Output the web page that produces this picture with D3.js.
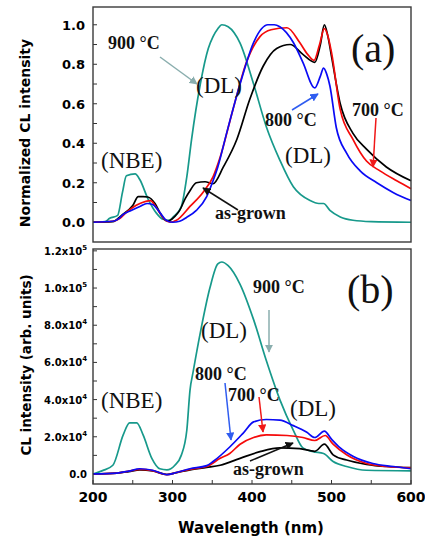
<!DOCTYPE html>
<html>
<head>
<meta charset="utf-8">
<script src="https://cdn.jsdelivr.net/npm/d3@7"></script>
<style>
  body { margin: 0; background: #fff; }
  svg { display: block; }
</style>
</head>
<body>
<div id="chart"></div>
<script>
// wavelength (nm), value
const top900 = [[200,0],[215,0.003],[221,0.02],[231,0.035],[237,0.15],[242,0.235],[253,0.245],[259,0.215],[269,0.12],[280,0.045],[288,0.015],[296,0.01],[301,0.027],[311,0.078],[318,0.23],[324,0.42],[335,0.7],[345,0.88],[351,0.94],[357,0.98],[362,1.0],[370,0.99],[385,0.907],[402,0.70],[418,0.484],[435,0.315],[452,0.18],[473,0.11],[484,0.095],[490,0.095],[498,0.06],[511,0.027],[527,0.01],[550,0.003],[600,0.0]];
const top800 = [[200,0],[225,0.005],[233,0.02],[238,0.04],[248,0.06],[259,0.08],[268,0.095],[275,0.09],[284,0.05],[292,0.01],[300,0],[309,0.005],[318,0.025],[330,0.06],[343,0.13],[351,0.21],[357,0.28],[368,0.45],[385,0.70],[402,0.91],[412,0.98],[420,1.0],[428,1.0],[435,0.99],[452,0.91],[464,0.81],[479,0.68],[486,0.74],[490,0.78],[494,0.75],[498,0.69],[506,0.48],[519,0.35],[536,0.26],[557,0.2],[578,0.15],[600,0.11]];
const top700 = [[200,0],[225,0.005],[234,0.02],[242,0.05],[250,0.075],[259,0.095],[272,0.11],[282,0.06],[290,0.015],[297,0],[305,0.01],[322,0.08],[339,0.155],[351,0.23],[360,0.33],[376,0.57],[393,0.81],[410,0.94],[424,0.975],[444,0.985],[460,0.91],[470,0.85],[478,0.82],[485,0.9],[491,0.98],[495,0.95],[500,0.86],[511,0.57],[527,0.42],[544,0.31],[561,0.26],[582,0.21],[600,0.17]];
const topGrown = [[200,0],[225,0.003],[236,0.035],[250,0.085],[257,0.13],[263,0.13],[269,0.128],[278,0.095],[286,0.035],[293,0.007],[297,0.01],[303,0.03],[309,0.06],[316,0.12],[322,0.16],[330,0.2],[341,0.205],[351,0.195],[364,0.28],[381,0.42],[397,0.62],[414,0.79],[431,0.88],[448,0.9],[464,0.85],[479,0.81],[486,0.9],[491,1.0],[495,0.95],[500,0.84],[511,0.6],[527,0.45],[544,0.37],[569,0.28],[600,0.21]];

const bot900 = [[200,0],[212,1800],[225,4700],[238,21000],[246,27500],[255,27500],[263,21000],[274,8400],[284,2800],[293,2200],[303,4700],[311,10000],[318,23500],[322,45000],[326,55000],[335,76000],[347,100000],[357,113000],[362,114000],[370,112000],[385,102000],[402,83000],[418,61000],[435,40000],[452,23500],[464,14000],[477,12000],[490,11000],[502,6700],[519,4000],[544,2000],[600,1700]];
const bot800 = [[200,0],[230,500],[245,1500],[259,2800],[275,2000],[293,-400],[305,800],[322,2800],[343,4500],[351,6700],[372,14500],[389,22000],[402,28000],[418,29300],[435,29000],[452,26000],[469,22400],[479,19600],[491,23000],[500,18700],[511,14000],[527,9500],[552,5600],[578,4000],[600,2800]];
const bot700 = [[200,0],[230,500],[245,1500],[259,2500],[275,1800],[293,-400],[305,800],[322,2500],[343,4000],[360,8400],[372,11000],[385,16000],[402,19600],[418,21000],[444,20700],[464,19600],[479,18000],[492,20700],[502,16000],[519,10300],[544,5600],[569,4000],[600,3300]];
const botGrown = [[200,0],[230,500],[245,1300],[259,2200],[275,1600],[293,-300],[305,700],[322,2200],[343,3500],[360,4700],[385,8400],[410,12000],[435,14000],[460,13600],[479,12200],[491,16000],[502,10300],[519,7500],[544,5200],[569,4000],[600,3400]];

const xTicks = [200, 300, 400, 500, 600];
const topTicks = [0, 0.2, 0.4, 0.6, 0.8, 1.0];
const botTicks = [0, 20000, 40000, 60000, 80000, 100000, 120000];

const colors = {c900: "#17998b", c800: "#0a0af5", c700: "#f50a0a", grown: "#000"};

const width = 425, height = 537;
const left = 93, right = 411;
const sans = "'DejaVu Sans', Verdana, sans-serif";
const serif = "'Liberation Serif', 'Times New Roman', serif";

const svg = d3.select("#chart").append("svg")
    .attr("width", width)
    .attr("height", height);

const defs = svg.append("defs");
function marker(id, col) {
  defs.append("marker")
    .attr("id", id)
    .attr("viewBox", "0 0 10 10")
    .attr("refX", 9).attr("refY", 5)
    .attr("markerWidth", 5.5).attr("markerHeight", 5.5)
    .attr("markerUnits", "strokeWidth")
    .attr("orient", "auto")
    .append("path")
    .attr("d", "M0,0 L10,5 L0,10 z")
    .attr("fill", col);
}
marker("aGray", "#8aaeae");
marker("aBlue", "#2f5cf0");
marker("aRed", "#f01818");
marker("aBlack", "#111");

const x = d3.scaleLinear().domain([200, 600]).range([left, right]);
const yTop = d3.scaleLinear().domain([-0.1, 1.09]).range([242, 7]);
const yBot = d3.scaleLinear().domain([-5400, 121000]).range([484, 249]);

function panel(y, series, ticks, minor, fmt, showX) {
  const g = svg.append("g");
  const [y0, y1] = y.range();

  // y ticks inside
  g.selectAll(".ymin").data(minor).join("line")
    .attr("x1", left).attr("x2", left + 4)
    .attr("y1", d => y(d)).attr("y2", d => y(d))
    .attr("stroke", "#333").attr("stroke-width", 1);

  if (showX) {
    const xm = d3.range(200, 601, 50);
    g.selectAll(".xmin").data(xm).join("line")
      .attr("x1", d => x(d)).attr("x2", d => x(d))
      .attr("y1", y0).attr("y2", y0 - 4)
      .attr("stroke", "#333").attr("stroke-width", 1);
    g.selectAll(".xl").data(xTicks).join("text")
      .attr("x", d => x(d)).attr("y", 502)
      .attr("text-anchor", "middle")
      .style("font", `bold 14px ${sans}`)
      .text(d => d);
  }

  const line = d3.line()
    .x(d => x(d[0])).y(d => y(d[1]))
    .curve(d3.curveMonotoneX);

  g.selectAll(".curve").data(series).join("path")
    .attr("fill", "none")
    .attr("stroke", d => d.color)
    .attr("stroke-width", 1.7)
    .attr("stroke-linejoin", "round")
    .attr("d", d => line(d.values));

  g.append("rect")
    .attr("x", left).attr("y", y1)
    .attr("width", right - left).attr("height", y0 - y1)
    .attr("fill", "none").attr("stroke", "#3a3a3a").attr("stroke-width", 1.4);

  fmt(g, ticks);
  return g;
}

panel(yTop, [
  {color: colors.c900, values: top900},
  {color: colors.grown, values: topGrown},
  {color: colors.c700, values: top700},
  {color: colors.c800, values: top800}
], topTicks, d3.range(0, 1.05, 0.1), (g, t) => {
  g.selectAll(".yl").data(t).join("text")
    .attr("x", 85).attr("y", d => yTop(d) + 5)
    .attr("text-anchor", "end")
    .style("font", `bold 13px ${sans}`)
    .text(d => d.toFixed(1));
}, false);

panel(yBot, [
  {color: colors.c900, values: bot900},
  {color: colors.grown, values: botGrown},
  {color: colors.c700, values: bot700},
  {color: colors.c800, values: bot800}
], botTicks, d3.range(0, 120001, 10000), (g, t) => {
  const tx = g.selectAll(".yl").data(t).join("text")
    .attr("x", 87).attr("y", d => yBot(d) + 4)
    .attr("text-anchor", "end")
    .style("font", `bold 10px ${sans}`);
  tx.each(function(d) {
    const s = d3.select(this);
    if (d === 0) { s.text("0.0"); return; }
    const e = Math.floor(Math.log10(d));
    const m = (d / Math.pow(10, e)).toFixed(1);
    s.append("tspan").text(m + "x10");
    s.append("tspan").attr("dy", -5).style("font-size", "7px").text(e);
  });
}, true);

// axis titles
svg.append("text")
  .attr("transform", "translate(30,133) rotate(-90)")
  .attr("text-anchor", "middle")
  .style("font", `bold 14px ${sans}`)
  .text("Normalized CL intensity");
svg.append("text")
  .attr("transform", "translate(31,365) rotate(-90)")
  .attr("text-anchor", "middle")
  .style("font", `bold 13.5px ${sans}`)
  .text("CL intensity (arb. units)");
svg.append("text")
  .attr("x", 251).attr("y", 533)
  .attr("text-anchor", "middle")
  .style("font", `bold 15px ${sans}`)
  .text("Wavelength (nm)");

// annotations
const labels = [
  {t: "(a)", x: 351, y: 62, s: 40, w: "normal"},
  {t: "(b)", x: 347, y: 303, s: 40, w: "normal"},
  {t: "900 \u00B0C", x: 108, y: 49, s: 18, w: "bold"},
  {t: "(DL)", x: 196, y: 93, s: 23, w: "normal"},
  {t: "(NBE)", x: 101, y: 168, s: 23, w: "normal"},
  {t: "800 \u00B0C", x: 265, y: 126, s: 18, w: "bold"},
  {t: "700 \u00B0C", x: 352, y: 116, s: 18, w: "bold"},
  {t: "(DL)", x: 285, y: 163, s: 23, w: "normal"},
  {t: "as-grown", x: 215, y: 219, s: 18, w: "bold"},
  {t: "900 \u00B0C", x: 253, y: 293, s: 18, w: "bold"},
  {t: "(DL)", x: 201, y: 338, s: 23, w: "normal"},
  {t: "800 \u00B0C", x: 195, y: 380, s: 18, w: "bold"},
  {t: "700 \u00B0C", x: 228, y: 401, s: 18, w: "bold"},
  {t: "(DL)", x: 290, y: 416, s: 23, w: "normal"},
  {t: "(NBE)", x: 101, y: 408, s: 23, w: "normal"},
  {t: "as-grown", x: 233, y: 475, s: 18, w: "bold"}
];
svg.selectAll(".ann").data(labels).join("text")
  .attr("x", d => d.x).attr("y", d => d.y)
  .style("font-family", serif)
  .style("font-size", d => d.s + "px")
  .style("font-weight", d => d.w)
  .attr("fill", "#111")
  .text(d => d.t);

const arrows = [
  {x1: 160, y1: 57, x2: 197, y2: 84, c: "#8aaeae", m: "aGray"},
  {x1: 292, y1: 110, x2: 318, y2: 94, c: "#2f5cf0", m: "aBlue"},
  {x1: 376, y1: 118, x2: 373, y2: 167, c: "#f01818", m: "aRed"},
  {x1: 238, y1: 210, x2: 203, y2: 188, c: "#111", m: "aBlack"},
  {x1: 269, y1: 310, x2: 269, y2: 352, c: "#8aaeae", m: "aGray"},
  {x1: 225, y1: 383, x2: 231, y2: 440, c: "#2f5cf0", m: "aBlue"},
  {x1: 259, y1: 397, x2: 263, y2: 432, c: "#f01818", m: "aRed"},
  {x1: 250, y1: 461, x2: 293, y2: 443, c: "#111", m: "aBlack"}
];
svg.selectAll(".arr").data(arrows).join("line")
  .attr("x1", d => d.x1).attr("y1", d => d.y1)
  .attr("x2", d => d.x2).attr("y2", d => d.y2)
  .attr("stroke", d => d.c).attr("stroke-width", 1.5)
  .attr("marker-end", d => `url(#${d.m})`);
</script>
</body>
</html>
